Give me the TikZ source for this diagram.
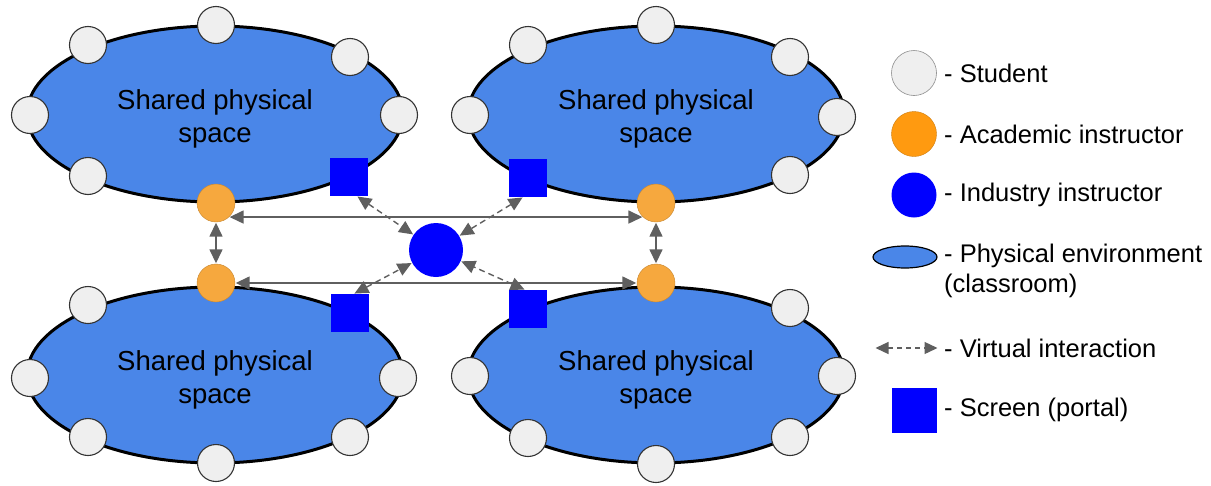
\documentclass[tikz,border=0pt]{standalone}
\usepackage{fontspec}
\setmainfont{Liberation Sans}
\usetikzlibrary{shapes.geometric,arrows.meta}
\definecolor{roomblue}{HTML}{4A86E8}
\definecolor{stufill}{HTML}{EFEFEF}
\definecolor{acaorange}{HTML}{F6A83E}
\definecolor{legorange}{HTML}{FF9A10}
\definecolor{indblue}{HTML}{0000FF}
\definecolor{arrgray}{HTML}{5F5F5F}
\tikzset{
  room/.style={ellipse, draw=black, line width=3pt, fill=roomblue, minimum width=376pt, minimum height=176pt, inner sep=0pt, align=center, font=\fontsize{27.5}{33}\selectfont},
  student/.style={circle, draw=black!80, line width=1.1pt, fill=stufill, minimum size=37pt, inner sep=0pt},
  academic/.style={circle, draw=acaorange!80!black, line width=0.4pt, fill=acaorange, minimum size=38pt, inner sep=0pt},
  industry/.style={circle, fill=indblue, minimum size=54pt, inner sep=0pt},
  screen/.style={rectangle, fill=indblue, minimum size=38pt, inner sep=0pt},
  biarrow/.style={draw=arrgray, line width=1.5pt, {Triangle[length=14pt,width=13pt]}-{Triangle[length=14pt,width=13pt]}, shorten <=0.5pt, shorten >=0.5pt},
  virtual/.style={biarrow, line width=1.4pt, dash pattern=on 6pt off 4pt},
  legtext/.style={anchor=west, inner sep=0pt, font=\fontsize{25.5}{30}\selectfont, align=left},
}
\newcommand{\roomtext}{\rule{0pt}{30pt}Shared physical\\space}
\begin{document}
\begin{tikzpicture}[x=1pt,y=-1pt]
\useasboundingbox (0,0) rectangle (1211,485);
% rooms
\node[room] (rTL) at (215,114) {\roomtext};
\node[room] (rBL) at (215,375) {\roomtext};
\node[room] (rTR) at (656,114) {\roomtext};
\node[room] (rBR) at (656,375) {\roomtext};
% students top-left
\node[student] (s1) at (88,45) {};
\node[student] (s2) at (216,25) {};
\node[student] (s3) at (350,57) {};
\node[student] (s4) at (30,115) {};
\node[student] (s5) at (399,115) {};
\node[student] (s6) at (88,176) {};
% students bottom-left
\node[student] (s7) at (88,305) {};
\node[student] (s8) at (30,378) {};
\node[student] (s9) at (398,378) {};
\node[student] (s10) at (88,437) {};
\node[student] (s11) at (216,463) {};
\node[student] (s12) at (350,437) {};
% students top-right
\node[student] (s13) at (528,45) {};
\node[student] (s14) at (656,25) {};
\node[student] (s15) at (790,57) {};
\node[student] (s16) at (470,115) {};
\node[student] (s17) at (837,117) {};
\node[student] (s18) at (790,175) {};
% students bottom-right
\node[student] (s19) at (790,308) {};
\node[student] (s20) at (470,376) {};
\node[student] (s21) at (837,376) {};
\node[student] (s22) at (528,438) {};
\node[student] (s23) at (656,464) {};
\node[student] (s24) at (790,437) {};
% academic instructors
\node[academic] (oTL) at (216,203) {};
\node[academic] (oBL) at (216,283) {};
\node[academic] (oTR) at (656,203) {};
\node[academic] (oBR) at (656,283) {};
% screens
\node[screen] (scTL) at (349,177) {};
\node[screen] (scBL) at (350,313) {};
\node[screen] (scTR) at (528,178) {};
\node[screen] (scBR) at (528,309) {};
% industry instructor
\node[industry] (ind) at (436,250) {};
% physical connections
\draw[biarrow] (oTL.-47) -- (oTR.-133);
\draw[biarrow] (oBL) -- (oBR);
\draw[biarrow] (oTL) -- (oBL);
\draw[biarrow] (oTR) -- (oBR);
% virtual connections
\draw[virtual] ([xshift=8pt]scTL.south) -- (ind);
\draw[virtual] ([xshift=-5pt]scTR.south) -- (ind);
\draw[virtual] ([xshift=4pt]scBL.north) -- (ind);
\draw[virtual] ([xshift=-3pt]scBR.north) -- (ind);
% legend
\node[student, minimum size=45pt, draw=black!45, line width=0.6pt] (lstu) at (914,73) {};
\node[academic, fill=legorange, draw=legorange!80!black, minimum size=45pt] (laca) at (914,134) {};
\node[industry, minimum size=45pt] (lind) at (914,195) {};
\node[ellipse, draw=black, line width=1.2pt, fill=roomblue, minimum width=64pt, minimum height=22pt, inner sep=0pt] (lroom) at (905,257) {};
\coordinate (lva) at (875,348);
\coordinate (lvb) at (938,348);
\draw[virtual, {Triangle[length=13pt,width=12pt]}-{Triangle[length=13pt,width=12pt]}, line width=1.3pt, dash pattern=on 5pt off 4pt] (lva) -- (lvb);
\node[screen, minimum size=45pt] (lscr) at (914,410) {};
\node[legtext] (t1) at (944,73) {- Student};
\node[legtext] (t2) at (944,134) {- Academic instructor};
\node[legtext] (t3) at (944,195) {- Industry instructor};
\node[legtext] (t4) at (944,271) {- Physical environment\\(classroom)};
\node[legtext] (t5) at (944,348) {- Virtual interaction};
\node[legtext] (t6) at (944,410) {- Screen (portal)};
\end{tikzpicture}
\end{document}
